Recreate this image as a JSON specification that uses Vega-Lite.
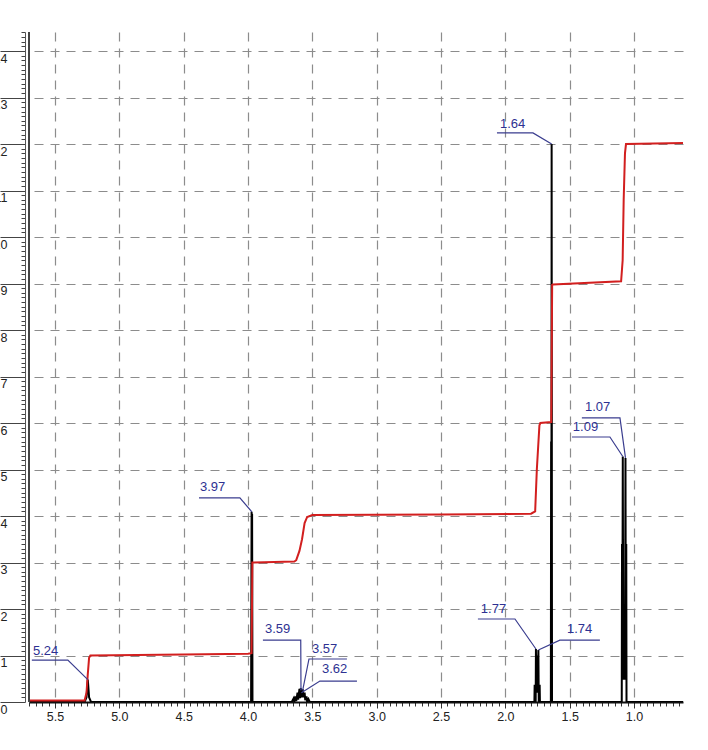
{
  "$schema": "https://vega.github.io/schema/vega-lite/v6.json",
  "width": 654,
  "height": 670,
  "autosize": {"type": "none"},
  "padding": {"left": 29, "top": 32, "right": 25, "bottom": 48},
  "background": "white",
  "config": {
    "view": {"stroke": null},
    "font": "Liberation Sans"
  },
  "datasets": {
    "spectrum": [
      {"ppm": 5.702, "v": 0}, {"ppm": 5.27, "v": 0}, {"ppm": 5.255, "v": 0.1}, {"ppm": 5.245, "v": 0.48}, {"ppm": 5.235, "v": 0.1}, {"ppm": 5.22, "v": 0},
      {"ppm": 3.976, "v": 0}, {"ppm": 3.972, "v": 4.09}, {"ppm": 3.970, "v": 0.5}, {"ppm": 3.968, "v": 4.05}, {"ppm": 3.965, "v": 0},
      {"ppm": 3.66, "v": 0}, {"ppm": 3.645, "v": 0.08}, {"ppm": 3.64, "v": 0}, {"ppm": 3.63, "v": 0.12}, {"ppm": 3.625, "v": 0.02}, {"ppm": 3.615, "v": 0.2}, {"ppm": 3.61, "v": 0.05}, {"ppm": 3.60, "v": 0.28}, {"ppm": 3.595, "v": 0.08}, {"ppm": 3.59, "v": 0.3}, {"ppm": 3.585, "v": 0.1}, {"ppm": 3.575, "v": 0.28}, {"ppm": 3.57, "v": 0.1}, {"ppm": 3.56, "v": 0.2}, {"ppm": 3.555, "v": 0.04}, {"ppm": 3.545, "v": 0.12}, {"ppm": 3.54, "v": 0}, {"ppm": 3.53, "v": 0.06}, {"ppm": 3.52, "v": 0},
      {"ppm": 1.78, "v": 0}, {"ppm": 1.774, "v": 0}, {"ppm": 1.772, "v": 0.37}, {"ppm": 1.770, "v": 0}, {"ppm": 1.764, "v": 0}, {"ppm": 1.762, "v": 1.14}, {"ppm": 1.759, "v": 0.2}, {"ppm": 1.754, "v": 1.0}, {"ppm": 1.75, "v": 0.2}, {"ppm": 1.743, "v": 1.12}, {"ppm": 1.740, "v": 0}, {"ppm": 1.735, "v": 0}, {"ppm": 1.733, "v": 0.37}, {"ppm": 1.731, "v": 0},
      {"ppm": 1.65, "v": 0}, {"ppm": 1.646, "v": 0}, {"ppm": 1.644, "v": 5.6}, {"ppm": 1.642, "v": 0.5}, {"ppm": 1.640, "v": 12.0}, {"ppm": 1.637, "v": 0},
      {"ppm": 1.10, "v": 0}, {"ppm": 1.095, "v": 0}, {"ppm": 1.093, "v": 3.4}, {"ppm": 1.091, "v": 0.5}, {"ppm": 1.087, "v": 5.28}, {"ppm": 1.083, "v": 0.5}, {"ppm": 1.07, "v": 0.5}, {"ppm": 1.066, "v": 5.25}, {"ppm": 1.063, "v": 0.5}, {"ppm": 1.060, "v": 3.4}, {"ppm": 1.058, "v": 0},
      {"ppm": 0.619, "v": 0}
    ],
    "integral": [
      {"ppm": 5.702, "v": 0.03}, {"ppm": 5.27, "v": 0.03}, {"ppm": 5.255, "v": 0.2}, {"ppm": 5.245, "v": 0.6}, {"ppm": 5.235, "v": 0.95}, {"ppm": 5.225, "v": 1.0},
      {"ppm": 4.5, "v": 1.02}, {"ppm": 4.0, "v": 1.04}, {"ppm": 3.972, "v": 1.05}, {"ppm": 3.966, "v": 3.0},
      {"ppm": 3.64, "v": 3.02}, {"ppm": 3.625, "v": 3.05}, {"ppm": 3.60, "v": 3.25}, {"ppm": 3.58, "v": 3.5}, {"ppm": 3.56, "v": 3.85}, {"ppm": 3.54, "v": 3.98}, {"ppm": 3.50, "v": 4.02},
      {"ppm": 2.5, "v": 4.03}, {"ppm": 1.80, "v": 4.05}, {"ppm": 1.768, "v": 4.1}, {"ppm": 1.755, "v": 5.0}, {"ppm": 1.735, "v": 5.95}, {"ppm": 1.728, "v": 6.0},
      {"ppm": 1.643, "v": 6.02}, {"ppm": 1.636, "v": 8.97}, {"ppm": 1.63, "v": 8.98},
      {"ppm": 1.10, "v": 9.05}, {"ppm": 1.088, "v": 9.5}, {"ppm": 1.08, "v": 10.8}, {"ppm": 1.07, "v": 11.8}, {"ppm": 1.062, "v": 12.0}, {"ppm": 0.619, "v": 12.02}
    ],
    "leaders": [
      {"lab": "5.24", "o": 1, "ppm": 5.68, "v": 0.90}, {"lab": "5.24", "o": 2, "ppm": 5.40, "v": 0.90}, {"lab": "5.24", "o": 3, "ppm": 5.245, "v": 0.48},
      {"lab": "3.97", "o": 1, "ppm": 4.381, "v": 4.39}, {"lab": "3.97", "o": 2, "ppm": 4.063, "v": 4.39}, {"lab": "3.97", "o": 3, "ppm": 3.97, "v": 4.09},
      {"lab": "3.59", "o": 1, "ppm": 3.884, "v": 1.33}, {"lab": "3.59", "o": 2, "ppm": 3.59, "v": 1.33}, {"lab": "3.59", "o": 3, "ppm": 3.588, "v": 0.25},
      {"lab": "3.57", "o": 1, "ppm": 3.575, "v": 0.25}, {"lab": "3.57", "o": 2, "ppm": 3.526, "v": 0.925}, {"lab": "3.57", "o": 3, "ppm": 3.231, "v": 0.925},
      {"lab": "3.62", "o": 1, "ppm": 3.585, "v": 0.2}, {"lab": "3.62", "o": 2, "ppm": 3.441, "v": 0.45}, {"lab": "3.62", "o": 3, "ppm": 3.153, "v": 0.45},
      {"lab": "1.77", "o": 1, "ppm": 2.213, "v": 1.785}, {"lab": "1.77", "o": 2, "ppm": 1.925, "v": 1.785}, {"lab": "1.77", "o": 3, "ppm": 1.762, "v": 1.14},
      {"lab": "1.74", "o": 1, "ppm": 1.743, "v": 1.12}, {"lab": "1.74", "o": 2, "ppm": 1.576, "v": 1.33}, {"lab": "1.74", "o": 3, "ppm": 1.265, "v": 1.33},
      {"lab": "1.64", "o": 1, "ppm": 2.065, "v": 12.24}, {"lab": "1.64", "o": 2, "ppm": 1.785, "v": 12.24}, {"lab": "1.64", "o": 3, "ppm": 1.64, "v": 12.0},
      {"lab": "1.07", "o": 1, "ppm": 1.405, "v": 6.11}, {"lab": "1.07", "o": 2, "ppm": 1.109, "v": 6.11}, {"lab": "1.07", "o": 3, "ppm": 1.066, "v": 5.25},
      {"lab": "1.09", "o": 1, "ppm": 1.482, "v": 5.70}, {"lab": "1.09", "o": 2, "ppm": 1.187, "v": 5.70}, {"lab": "1.09", "o": 3, "ppm": 1.087, "v": 5.28}
    ],
    "labels": [
      {"lab": "5.24", "ppm": 5.671, "v": 1.01},
      {"lab": "3.97", "ppm": 4.373, "v": 4.54},
      {"lab": "3.59", "ppm": 3.868, "v": 1.48},
      {"lab": "3.57", "ppm": 3.503, "v": 1.05},
      {"lab": "3.62", "ppm": 3.425, "v": 0.62},
      {"lab": "1.77", "ppm": 2.19, "v": 1.91},
      {"lab": "1.74", "ppm": 1.521, "v": 1.48},
      {"lab": "1.64", "ppm": 2.042, "v": 12.34},
      {"lab": "1.07", "ppm": 1.381, "v": 6.26},
      {"lab": "1.09", "ppm": 1.475, "v": 5.83}
    ],
    "edge": [{"ppm": 5.702, "v": 0}]
  },
  "encoding": {
    "x": {
      "field": "ppm", "type": "quantitative",
      "scale": {"domain": [0.619, 5.702], "reverse": true, "nice": false, "zero": false},
      "axis": {
        "title": null,
        "values": [0.65,0.7,0.75,0.8,0.85,0.9,0.95,1.0,1.05,1.1,1.15,1.2,1.25,1.3,1.35,1.4,1.45,1.5,1.55,1.6,1.65,1.7,1.75,1.8,1.85,1.9,1.95,2.0,2.05,2.1,2.15,2.2,2.25,2.3,2.35,2.4,2.45,2.5,2.55,2.6,2.65,2.7,2.75,2.8,2.85,2.9,2.95,3.0,3.05,3.1,3.15,3.2,3.25,3.3,3.35,3.4,3.45,3.5,3.55,3.6,3.65,3.7,3.75,3.8,3.85,3.9,3.95,4.0,4.05,4.1,4.15,4.2,4.25,4.3,4.35,4.4,4.45,4.5,4.55,4.6,4.65,4.7,4.75,4.8,4.85,4.9,4.95,5.0,5.05,5.1,5.15,5.2,5.25,5.3,5.35,5.4,5.45,5.5,5.55,5.6,5.65,5.7],
        "labelExpr": "abs(datum.value*2 - round(datum.value*2)) < 0.001 ? format(datum.value, '.1f') : ''",
        "labelFont": "Liberation Sans", "labelFontSize": 12.5, "labelColor": "#222",
        "labelPadding": 2, "labelOverlap": false, "labelFlush": false,
        "domainColor": "#111", "domainWidth": 2,
        "tickColor": "#333", "tickWidth": 1,
        "tickSize": {"condition": {"test": "abs(datum.value*2 - round(datum.value*2)) < 0.001", "value": 6}, "value": 4},
        "grid": true,
        "gridColor": "#8c8c8c", "gridWidth": 1.2, "gridDash": [9, 7],
        "gridOpacity": {"condition": {"test": "abs(datum.value*2 - round(datum.value*2)) < 0.001", "value": 1}, "value": 0}
      }
    },
    "y": {
      "field": "v", "type": "quantitative",
      "scale": {"domain": [0, 14.41], "nice": false, "zero": false},
      "axis": {
        "title": null, "offset": 4,
        "values": [0,0.1,0.2,0.3,0.4,0.5,0.6,0.7,0.8,0.9,1,1.1,1.2,1.3,1.4,1.5,1.6,1.7,1.8,1.9,2,2.1,2.2,2.3,2.4,2.5,2.6,2.7,2.8,2.9,3,3.1,3.2,3.3,3.4,3.5,3.6,3.7,3.8,3.9,4,4.1,4.2,4.3,4.4,4.5,4.6,4.7,4.8,4.9,5,5.1,5.2,5.3,5.4,5.5,5.6,5.7,5.8,5.9,6,6.1,6.2,6.3,6.4,6.5,6.6,6.7,6.8,6.9,7,7.1,7.2,7.3,7.4,7.5,7.6,7.7,7.8,7.9,8,8.1,8.2,8.3,8.4,8.5,8.6,8.7,8.8,8.9,9,9.1,9.2,9.3,9.4,9.5,9.6,9.7,9.8,9.9,10,10.1,10.2,10.3,10.4,10.5,10.6,10.7,10.8,10.9,11,11.1,11.2,11.3,11.4,11.5,11.6,11.7,11.8,11.9,12,12.1,12.2,12.3,12.4,12.5,12.6,12.7,12.8,12.9,13,13.1,13.2,13.3,13.4,13.5,13.6,13.7,13.8,13.9,14,14.1,14.2,14.3,14.4],
        "labelExpr": "abs(datum.value - round(datum.value)) < 0.001 ? format(datum.value, 'd') : ''",
        "labelFont": "Liberation Sans", "labelFontSize": 12.5, "labelColor": "#222",
        "labelAlign": "right", "labelBaseline": "top", "labelOffset": 1,
        "labelPadding": -7, "labelOverlap": false, "labelFlush": false,
        "domainColor": "#555", "domainWidth": 1,
        "tickColor": "#444", "tickWidth": 1,
        "tickSize": {"condition": {"test": "abs(datum.value - round(datum.value)) < 0.001", "value": 25}, "value": 4},
        "grid": true,
        "gridColor": "#8c8c8c", "gridWidth": 1.2, "gridDash": [9, 7],
        "gridOpacity": {"condition": {"test": "abs(datum.value - round(datum.value)) < 0.001 && datum.value > 0", "value": 1}, "value": 0}
      }
    }
  },
  "layer": [
    {
      "data": {"name": "spectrum"},
      "mark": {"type": "line", "color": "black", "strokeWidth": 2, "clip": true}
    },
    {
      "data": {"name": "integral"},
      "mark": {"type": "line", "color": "#d21f1f", "strokeWidth": 2, "clip": true}
    },
    {
      "data": {"name": "edge"},
      "mark": {"type": "rule", "color": "#444", "strokeWidth": 2},
      "encoding": {
        "y": {"datum": 0},
        "y2": {"datum": 14.41}
      }
    },
    {
      "data": {"name": "leaders"},
      "mark": {"type": "line", "color": "#3a3d8f", "strokeWidth": 1.2},
      "encoding": {
        "detail": {"field": "lab"},
        "order": {"field": "o"}
      }
    },
    {
      "data": {"name": "labels"},
      "mark": {"type": "text", "align": "left", "baseline": "alphabetic", "color": "#2e3192", "font": "Liberation Sans", "fontSize": 13},
      "encoding": {
        "text": {"field": "lab"}
      }
    }
  ]
}
